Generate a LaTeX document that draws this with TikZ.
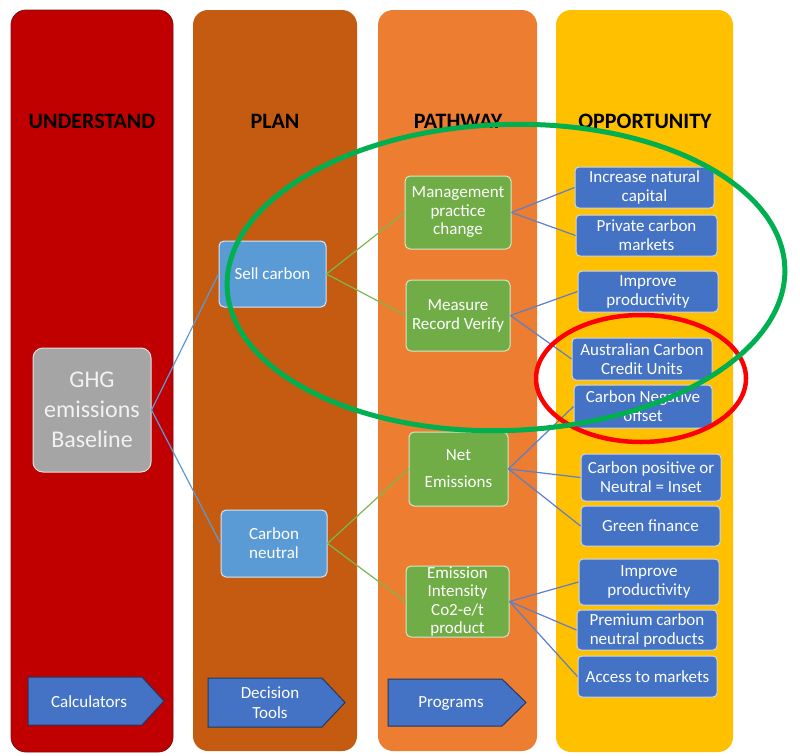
\documentclass[tikz,border=0pt]{standalone}
\usepackage{fontspec}
\setmainfont{Carlito}
\definecolor{cunder}{HTML}{C00000}
\definecolor{cunderdk}{HTML}{7A1010}
\definecolor{cplancol}{HTML}{C55A11}
\definecolor{cpathcol}{HTML}{ED7D31}
\definecolor{coppcol}{HTML}{FFC000}
\definecolor{cgreen}{HTML}{70AD47}
\definecolor{cgreenlt}{HTML}{D5E8C8}
\definecolor{cblue}{HTML}{4472C4}
\definecolor{cbluelt}{HTML}{C9D6EE}
\definecolor{cplanbox}{HTML}{5B9BD5}
\definecolor{cplanlt}{HTML}{D6E6F5}
\definecolor{cgray}{HTML}{A5A5A5}
\definecolor{cgraylt}{HTML}{E0E0E0}
\definecolor{cnavy}{HTML}{203864}
\definecolor{cell}{HTML}{00B050}
\definecolor{cred}{HTML}{FF0000}
\definecolor{linkblue}{HTML}{5B7FC8}
\definecolor{linkgreen}{HTML}{7CB84E}
\begin{document}
\begin{tikzpicture}[x=1pt,y=-1pt,
  colbox/.style={rounded corners=15pt},
  ttl/.style={font=\fontsize{22}{26}\selectfont\bfseries, text=black, inner sep=0pt},
  bx/.style={rounded corners=5pt, inner sep=0pt, align=center, text=white,
     font=\fontsize{17}{19}\selectfont, line width=1pt},
  gbox/.style={bx, fill=cgreen, draw=cgreenlt},
  pbox/.style={bx, fill=cplanbox, draw=cplanlt},
  obox/.style={bx, fill=cblue, draw=cbluelt, rounded corners=4pt},
  sig/.style={fill=cblue, draw=cnavy, line width=1pt},
  sigtxt/.style={inner sep=0pt, align=center, text=white, font=\fontsize{17}{20}\selectfont},
  lkb/.style={draw=cplanbox, line width=1.2pt},
  lkg/.style={draw=linkgreen, line width=1.2pt},
  lko/.style={draw=linkblue, line width=1.2pt}
]
\useasboundingbox (0,0) rectangle (800,755);
\fill[white] (0,0) rectangle (800,755);

% columns
\filldraw[colbox, fill=cunder, draw=cunderdk, line width=0.8pt] (11,10) rectangle (173,752);
\fill[colbox, cplancol] (193,10) rectangle (357,751);
\fill[colbox, cpathcol] (378,10) rectangle (537,751);
\fill[colbox, coppcol] (556,10) rectangle (733,752);

% titles
\node[ttl] (t1) at (92,121) {UNDERSTAND};
\node[ttl] (t2) at (275,121) {PLAN};
\node[ttl] (t3) at (458,121) {PATHWAY};
\node[ttl] (t4) at (645,121) {OPPORTUNITY};

% understand
\node[bx, fill=cgray, draw=cgraylt, rounded corners=10pt, text=white!95!black,
      font=\fontsize{24}{30}\selectfont, minimum width=118pt, minimum height=124pt]
      (ghg) at (92,410) {GHG\\emissions\\Baseline};

% plan
\node[pbox, minimum width=107pt, minimum height=66pt] (sell) at (272.5,274) {Sell carbon};
\node[pbox, minimum width=106pt, minimum height=67pt] (neut) at (274,543.5) {Carbon\\neutral};

% pathway
\node[gbox, minimum width=106pt, minimum height=73pt, font=\fontsize{17}{18.5}\selectfont]
   (mgmt) at (458,212.5) {Management\\practice\\change};
\node[gbox, minimum width=104pt, minimum height=71pt] (mrv) at (458,315.5) {Measure\\Record Verify};
\node[gbox, minimum width=99pt, minimum height=74pt, font=\fontsize{17}{27}\selectfont]
   (net) at (458.5,469) {Net\\Emissions};
\node[gbox, minimum width=103pt, minimum height=71pt, font=\fontsize{17}{18.5}\selectfont]
   (ei) at (457.5,601.5) {Emission\\Intensity\\Co2-e/t\\product};

% opportunity
\node[obox, minimum width=139pt, minimum height=41pt] (inc) at (644.5,187.5) {Increase natural\\capital};
\node[obox, minimum width=141pt, minimum height=41pt] (priv) at (646.5,235.5) {Private carbon\\markets};
\node[obox, minimum width=140pt, minimum height=41pt] (imp1) at (648,291.5) {Improve\\productivity};
\node[obox, minimum width=140pt, minimum height=42pt] (accu) at (642,359) {Australian Carbon\\Credit Units};
\node[obox, minimum width=138pt, minimum height=43pt] (neg) at (643,406.5) {Carbon Negative\\offset};
\node[obox, minimum width=140pt, minimum height=47pt] (pos) at (651,477.5) {Carbon positive or\\Neutral = Inset};
\node[obox, minimum width=139pt, minimum height=40pt] (gf) at (650.5,526) {Green finance};
\node[obox, minimum width=140pt, minimum height=46pt] (imp2) at (649,582) {Improve\\productivity};
\node[obox, minimum width=140pt, minimum height=40pt] (prem) at (647,630) {Premium carbon\\neutral products};
\node[obox, minimum width=139pt, minimum height=41pt] (acc) at (647.5,676.5) {Access to markets};

% connectors
\draw[lkb] (ghg.east) -- (sell.west);
\draw[lkb] (ghg.east) -- (neut.west);
\draw[lkg] (sell.east) -- (mgmt.west);
\draw[lkg] (sell.east) -- (mrv.west);
\draw[lkg] (neut.east) -- (net.west);
\draw[lkg] (neut.east) -- (ei.west);
\draw[lko] (mgmt.east) -- (inc.west);
\draw[lko] (mgmt.east) -- (priv.west);
\draw[lko] (mrv.east) -- (imp1.west);
\draw[lko] (mrv.east) -- (accu.west);
\draw[lko] (net.east) -- (neg.west);
\draw[lko] (net.east) -- (pos.west);
\draw[lko] (net.east) -- (gf.west);
\draw[lko] (ei.east) -- (imp2.west);
\draw[lko] (ei.east) -- (prem.west);
\draw[lko] (ei.east) -- (acc.west);

% bottom signal arrows
\draw[sig] (28,677) -- (142,677) -- (164,701) -- (142,725) -- (28,725) -- cycle;
\node[sigtxt] (calc) at (89,702) {Calculators};
\draw[sig] (208,678) -- (322,678) -- (345,702.5) -- (322,727) -- (208,727) -- cycle;
\node[sigtxt] (dtools) at (270,703) {Decision\\Tools};
\draw[sig] (388,679) -- (502,679) -- (526,702.5) -- (502,726) -- (388,726) -- cycle;
\node[sigtxt] (progs) at (451,703) {Programs};

% ellipses
\draw[cred, line width=4.5pt] (641,378.5) ellipse [x radius=105, y radius=63.5];
\draw[cell, line width=5pt, rotate around={2:(506,277.5)}] (506,277.5) ellipse [x radius=279, y radius=153];
\end{tikzpicture}
\end{document}
